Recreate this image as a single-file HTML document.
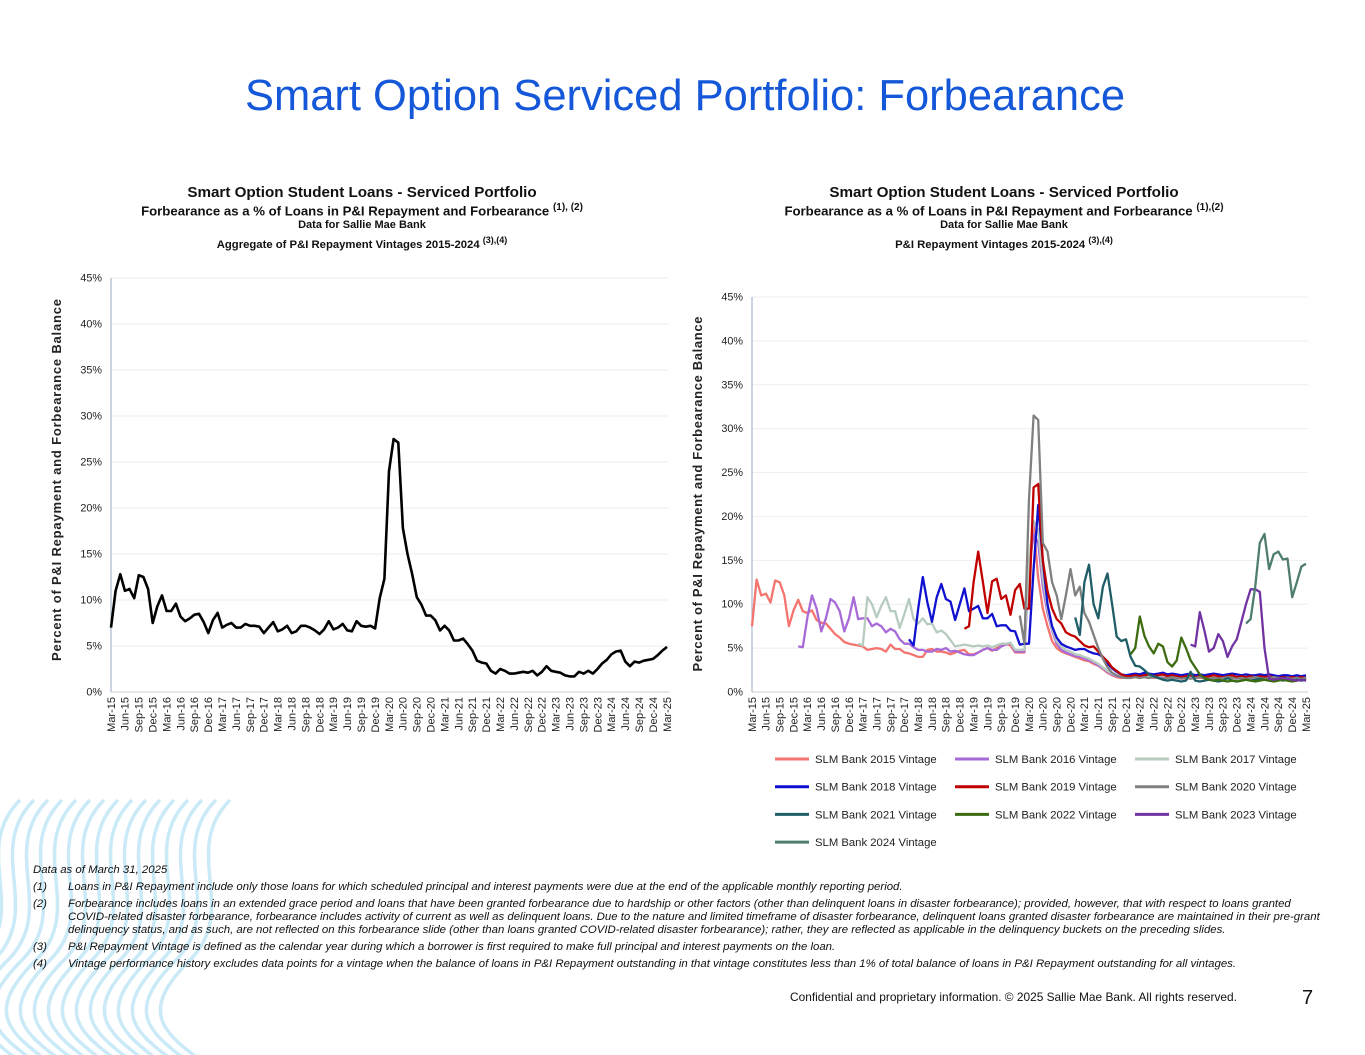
<!DOCTYPE html>
<html><head><meta charset="utf-8">
<style>
html,body{margin:0;padding:0;background:#fff;}
body{width:1365px;height:1055px;position:relative;overflow:hidden;font-family:"Liberation Sans",Arial,sans-serif;}
.abs{position:absolute;}
.title{left:0;width:1370px;top:72px;text-align:center;font-size:43.5px;color:#1557d9;}
.ct{text-align:center;font-weight:bold;color:#111;}
.ct div{position:absolute;left:0;width:100%;white-space:nowrap;}
.foot{font-style:italic;font-size:11.4px;color:#111;line-height:13px;}
.fn{position:absolute;left:35px;width:1262px;}
.fl{position:absolute;left:0;}
.row{position:relative;}
</style></head>
<body>
<svg class="abs" style="left:0;top:0" width="1365" height="1055">
<g id="waves" fill="none" stroke="#b9e3f5" stroke-width="3.5" opacity="0.75"></g>
</svg>
<div class="abs title">Smart Option Serviced Portfolio: Forbearance</div>

<div class="abs ct" style="left:62px;width:600px;top:0">
<div style="font-size:15.2px;top:184px">Smart Option Student Loans - Serviced Portfolio</div>
<div style="font-size:13.2px;top:202px">Forbearance as a % of Loans in P&amp;I Repayment and Forbearance <sup style="font-size:10px">(1), (2)</sup></div>
<div style="font-size:11px;top:219px">Data for Sallie Mae Bank</div>
<div style="font-size:11.3px;top:235px">Aggregate of P&amp;I Repayment Vintages 2015-2024 <sup style="font-size:9px">(3),(4)</sup></div>
</div>
<div class="abs ct" style="left:704px;width:600px;top:0">
<div style="font-size:15.2px;top:184px">Smart Option Student Loans - Serviced Portfolio</div>
<div style="font-size:13.2px;top:202px">Forbearance as a % of Loans in P&amp;I Repayment and Forbearance <sup style="font-size:10px">(1),(2)</sup></div>
<div style="font-size:11px;top:219px">Data for Sallie Mae Bank</div>
<div style="font-size:11.3px;top:235px">P&amp;I Repayment Vintages 2015-2024 <sup style="font-size:9px">(3),(4)</sup></div>
</div>

<svg class="abs" style="left:0;top:0" width="1365" height="1055" id="charts" font-family="Liberation Sans, Arial, sans-serif"></svg>

<div class="abs foot" style="left:33px;top:864px;width:1320px">
<div class="row" style="height:17px">Data as of March 31, 2025</div>
<div class="row" style="height:17px"><span class="fl">(1)</span><span class="fn">Loans in P&amp;I Repayment include only those loans for which scheduled principal and interest payments were due at the end of the applicable monthly reporting period.</span></div>
<div class="row" style="height:43px"><span class="fl">(2)</span><span class="fn">Forbearance includes loans in an extended grace period and loans that have been granted forbearance due to hardship or other factors (other than delinquent loans in disaster forbearance); provided, however, that with respect to loans granted COVID-related disaster forbearance, forbearance includes activity of current as well as delinquent loans. Due to the nature and limited timeframe of disaster forbearance, delinquent loans granted disaster forbearance are maintained in their pre-grant delinquency status, and as such, are not reflected on this forbearance slide (other than loans granted COVID-related disaster forbearance); rather, they are reflected as applicable in the delinquency buckets on the preceding slides.</span></div>
<div class="row" style="height:17px"><span class="fl">(3)</span><span class="fn">P&amp;I Repayment Vintage is defined as the calendar year during which a borrower is first required to make full principal and interest payments on the loan.</span></div>
<div class="row" style="height:17px"><span class="fl">(4)</span><span class="fn">Vintage performance history excludes data points for a vintage when the balance of loans in P&amp;I Repayment outstanding in that vintage constitutes less than 1% of total balance of loans in P&amp;I Repayment outstanding for all vintages.</span></div>
</div>
<div class="abs" style="left:790px;top:990px;font-size:11.9px;color:#111">Confidential and proprietary information. © 2025 Sallie Mae Bank. All rights reserved.</div>
<div class="abs" style="left:1302px;top:987px;font-size:20px;color:#111">7</div>

<script>
// ---- data ----
const yTicks = [0,5,10,15,20,25,30,35,40,45];
const aggregate = [
7,11,12.8,11,11.2,10.2,12.7,12.5,11.2,7.5,
9.3,10.5,8.8,8.8,9.6,8.2,7.7,8,8.4,8.5,7.6,6.4,
7.8,8.6,7,7.3,7.5,7,7,7.4,7.2,7.2,7.1,6.4,
7,7.6,6.6,6.8,7.2,6.4,6.6,7.2,7.2,7,6.7,6.3,
6.8,7.7,6.8,7,7.4,6.7,6.6,7.7,7.2,7.1,7.2,6.9,
10.2,12.3,24,27.5,27.1,17.8,15,12.8,10.3,9.5,8.3,8.3,
7.8,6.7,7.2,6.7,5.6,5.6,5.8,5.2,4.5,3.4,3.2,3.1,
2.3,2.0,2.5,2.3,2.0,2.0,2.1,2.2,2.1,2.3,1.8,2.2,
2.8,2.3,2.2,2.1,1.8,1.7,1.7,2.2,2.0,2.3,2.0,2.5,
3.1,3.5,4.1,4.4,4.5,3.3,2.8,3.3,3.2,3.4,3.5,3.6,
4.0,4.5,4.9];
const seriesNames = ["SLM Bank 2015 Vintage","SLM Bank 2016 Vintage","SLM Bank 2017 Vintage","SLM Bank 2018 Vintage","SLM Bank 2019 Vintage","SLM Bank 2020 Vintage","SLM Bank 2021 Vintage","SLM Bank 2022 Vintage","SLM Bank 2023 Vintage","SLM Bank 2024 Vintage"];
const seriesStart = [0,10,23,34,46,58,70,82,95,107];
const v2015 = [7.5,12.8,11,11.2,10.2,12.7,12.5,11,7.5,9.3,
10.5,9.2,9.0,9.3,8.2,7.9,7.8,7.2,6.6,6.2,5.7,5.5,
5.4,5.3,5.2,4.8,4.9,5.0,4.9,4.6,5.4,4.9,4.9,4.5,
4.4,4.2,4.0,4.0,4.8,4.9,4.6,4.6,4.5,4.3,4.5,4.7,
4.8,4.3,4.3,4.5,4.8,5.0,4.7,5.0,5.3,5.5,5.3,4.5,
4.5,4.5,15,19,13,9.5,7.5,5.8,5.0,4.6,4.4,4.2,
4.0,3.8,3.6,3.5,3.2,3.0,2.6,2.2,1.9,1.7,1.6,1.7,
1.8,1.8,1.7,1.7,1.8,1.6,1.7,1.8,1.6,1.6,1.7,1.7,
1.6,1.6,1.7,1.6,1.6,1.5,1.5,1.6,1.6,1.7,1.8,1.6,
1.6,1.6,1.7,1.6,1.7,1.6,1.7,1.7,1.6,1.5,1.6,1.6,
1.5,1.6,1.5];
const v2016 = [5.2,5.1,8.5,11,9.5,6.9,8.4,10.6,10.2,9.2,6.9,8.4,
10.8,8.3,8.4,8.4,7.5,7.8,7.5,6.8,7.2,6.9,6.0,5.5,
5.5,5.1,4.8,4.8,4.6,4.6,4.9,4.8,5.0,4.6,4.7,4.5,
4.3,4.2,4.2,4.5,4.8,5.0,4.8,4.8,5.2,5.4,5.6,4.6,
4.6,4.6,14,18,17,12,9,7,5.5,4.8,4.5,4.3,
4.1,4.0,3.8,3.6,3.4,3.0,2.7,2.3,2.0,1.8,1.7,1.8,
1.9,1.8,1.7,1.8,1.7,1.7,1.8,1.6,1.7,1.7,1.6,1.8,
1.7,1.6,1.6,1.7,1.6,1.6,1.5,1.6,1.7,1.6,1.7,1.6,
1.5,1.6,1.6,1.5,1.6,1.7,1.6,1.5,1.4,1.5,1.6,1.5,
1.4,1.5,1.4];
const v2017 = [5.5,5.3,10.8,10,8.5,9.8,10.8,9.2,9.2,7.3,8.9,
10.6,8.3,7.8,8.4,7.7,7.8,6.8,7.0,6.6,5.9,5.2,5.3,
5.4,5.3,5.2,5.3,5.2,5.3,5.1,5.3,5.5,5.5,5.6,4.8,
4.8,4.8,15,19.5,18.5,13,9.5,7.2,5.8,5.2,4.8,4.6,
4.3,4.2,4.0,3.8,3.5,3.2,2.8,2.4,2.1,1.9,1.8,1.9,
1.9,1.8,1.8,1.9,1.8,1.7,1.8,1.9,1.7,1.8,1.8,1.7,
1.8,1.7,1.8,1.7,1.6,1.7,1.8,1.7,1.6,1.7,1.8,1.7,
1.7,1.8,1.7,1.6,1.7,1.8,1.7,1.6,1.8,1.7,1.6,1.7,
1.6,1.7,1.6];
const v2018 = [6.0,5.3,9.5,13.1,10.2,8.0,10.8,12.3,10.6,10.3,8.2,10.0,
11.8,9.2,9.5,9.8,8.4,8.4,8.9,7.5,7.6,7.6,7.0,6.9,
5.4,5.5,5.5,14,21.3,15,10,7.5,6.2,5.5,5.2,5.0,
4.8,4.9,4.9,4.6,4.4,4.3,4.0,3.2,2.7,2.3,2.0,1.9,
2.0,2.1,2.0,2.2,2.1,2.0,2.1,2.2,2.0,2.1,2.0,1.9,
2.0,2.1,1.9,2.0,1.9,2.0,2.1,2.0,1.9,2.0,2.1,2.0,
1.9,2.0,1.9,1.9,2.0,1.9,2.0,1.9,1.8,1.9,1.9,1.8,
1.9,1.8,1.9];
const v2019 = [7.2,7.5,12.5,16,12.6,9.0,12.6,12.9,10.6,11.0,8.8,11.6,
12.3,9.5,9.5,23.3,23.7,15,11.5,9.5,8.3,7.8,6.8,6.5,
6.3,5.8,5.3,5.1,5.2,4.6,4.0,3.5,2.8,2.4,2.0,1.8,
1.8,1.9,1.8,1.9,2.0,1.8,1.9,2.0,1.8,1.9,1.8,1.7,
1.8,1.9,1.7,1.8,1.7,1.8,1.9,1.8,1.7,1.8,1.9,1.7,
1.8,1.7,1.8,1.7,1.8,1.7,1.8,1.7,1.6,1.7,1.6,1.7,
1.6,1.7,1.6];
const v2020 = [8.7,5.5,22,31.5,31,17,16,12.5,11,8.3,11,14,
11,12,9,8,6.5,5,3.8,2.8,2.2,1.9,1.7,1.6,
1.6,1.7,1.6,1.7,1.6,1.7,1.6,1.5,1.6,1.7,1.6,1.5,
1.6,1.5,1.6,1.7,1.6,1.5,1.6,1.5,1.6,1.7,1.6,1.5,
1.6,1.5,1.6,1.7,1.6,1.5,1.6,1.7,1.6,1.5,1.6,1.5,
1.6,1.5,1.6];
const v2021 = [8.5,6.5,12.5,14.5,10,8.4,12,13.5,10,6.3,5.8,6.0,
4.0,3.0,2.9,2.5,2.0,1.8,1.6,1.4,1.3,1.4,1.3,1.2,
1.3,2.3,1.3,1.2,1.3,1.4,1.3,1.2,1.3,1.6,1.3,1.2,
1.3,1.4,1.3,1.4,1.5,1.4,1.3,1.4,1.5,1.3,1.4,1.3,
1.4,1.3,1.4];
const v2022 = [4.3,5.0,8.6,6.4,5.2,4.4,5.5,5.2,3.4,2.9,3.6,6.2,
5.0,3.6,2.8,2.0,1.6,1.4,1.3,1.4,1.3,1.2,1.3,1.2,
1.3,1.4,1.3,1.2,1.3,1.4,1.3,1.2,1.3,1.4,1.3,1.2,
1.3,1.4,1.3];
const v2023 = [5.4,5.2,9.1,7.0,4.6,5.0,6.6,5.8,4.0,5.2,6.0,
8.0,10,11.7,11.7,11.4,5.0,1.5,1.4,1.5,1.6,1.5,1.4,
1.3,1.4,1.3];
const v2024 = [7.8,8.3,12,17,18,14,15.7,16,15.1,15.2,10.8,12.5,14.3,14.6];
const seriesValues = [v2015,v2016,v2017,v2018,v2019,v2020,v2021,v2022,v2023,v2024];
const seriesColors = ["#f4746f","#a86ad8","#b7cbbf","#1010d0","#c00000","#808080","#1f5e68","#3d6b10","#7233a2","#4f7d6e"];

// ---- drawing ----
const NS="http://www.w3.org/2000/svg";
const svg=document.getElementById('charts');
function mk(tag,attrs,parent){const e=document.createElementNS(NS,tag);for(const k in attrs)e.setAttribute(k,attrs[k]);(parent||svg).appendChild(e);return e;}
const nMonths=121;
function monthLabel(i){const m=(2+i)%12;const y=15+Math.floor((2+i)/12);return ["Jan","Feb","Mar","Apr","May","Jun","Jul","Aug","Sep","Oct","Nov","Dec"][m]+"-"+y;}

function drawChart(cfg){
  const g=mk('g',{});
  
  
  const x=i=>cfg.x0+(cfg.x1-cfg.x0)*i/(nMonths-1);
  const y=v=>cfg.y0-(cfg.y0-cfg.yTop)*v/45;
  yTicks.forEach(t=>{
    const gl=mk('line',{x1:cfg.x0,x2:cfg.x1+2,y1:y(t),y2:y(t),stroke:t===0?'#c8cdd6':'#eeeeee','stroke-width':1},g);
    
    
    const tl=mk('text',{x:cfg.x0-9,y:y(t)+3.5,'text-anchor':'end','font-size':10.8,fill:'#222'},g);
    tl.textContent=t+'%';
    
    
  });
  const ax=mk('line',{x1:cfg.x0,x2:cfg.x0,y1:cfg.yTop,y2:cfg.y0,stroke:'#a9b7cc','stroke-width':1.2},g);
  
  
  for(let i=0;i<nMonths;i+=3){
    const xl=x(i)+3.8;
    const t=mk('text',{x:0,y:0,'text-anchor':'end','font-size':11,fill:'#222',transform:`translate(${xl},${cfg.y0+5}) rotate(-90)`},g);
    t.textContent=monthLabel(i);
    
    
  }
  const yt=mk('text',{x:0,y:0,'text-anchor':'middle','font-size':13,'font-weight':'bold',fill:'#222',textLength:cfg.ytLen,lengthAdjust:'spacing',transform:`translate(${cfg.ytX},${cfg.ytY}) rotate(-90)`},g);
  yt.textContent='Percent of P&I Repayment and Forbearance  Balance';
  
  
  return {g,x,y};
}
function line(ctx,vals,start,color,w,name){
  const pts=vals.map((v,k)=>ctx.x(start+k).toFixed(1)+','+ctx.y(v).toFixed(1)).join(' ');
  const p=mk('polyline',{points:pts,fill:'none',stroke:color,'stroke-width':w,'stroke-linejoin':'round'},ctx.g);
  
  
}
const L=drawChart({name:'left-chart',x0:111,x1:667,y0:692,yTop:278,ytX:61,ytY:480,ytLen:362});
line(L,aggregate,0,'#000',2.6,'aggregate-line');
const R=drawChart({name:'right-chart',x0:752,x1:1306,y0:692,yTop:297,ytX:702,ytY:494,ytLen:355});
seriesValues.forEach((vals,s)=>line(R,vals,seriesStart[s],seriesColors[s],2.3,'vintage-'+(2015+s)+'-line'));
// legend
const lg=mk('g',{});


seriesNames.forEach((nm,s)=>{
  const col=s%3,row=Math.floor(s/3);
  const lx=[775,955,1135][col], ly=759+row*27.7;
  const e=mk('g',{},lg);
  
  
  mk('line',{x1:lx,x2:lx+34,y1:ly,y2:ly,stroke:seriesColors[s],'stroke-width':3},e);
  const t=mk('text',{x:lx+40,y:ly+4,'font-size':11.3,fill:'#222'},e);
  t.textContent=nm;
});
// decorative waves
const wg=document.getElementById('waves');
for(let k=0;k<16;k++){
  const x0=-40+k*14;
  const d=`M${x0+60},800 C${x0+10},850 ${x0+70},910 ${x0+20},960 S${x0-10},1030 ${x0+30},1060`;
  mk('path',{d:d},wg);
}
</script>
</body></html>
